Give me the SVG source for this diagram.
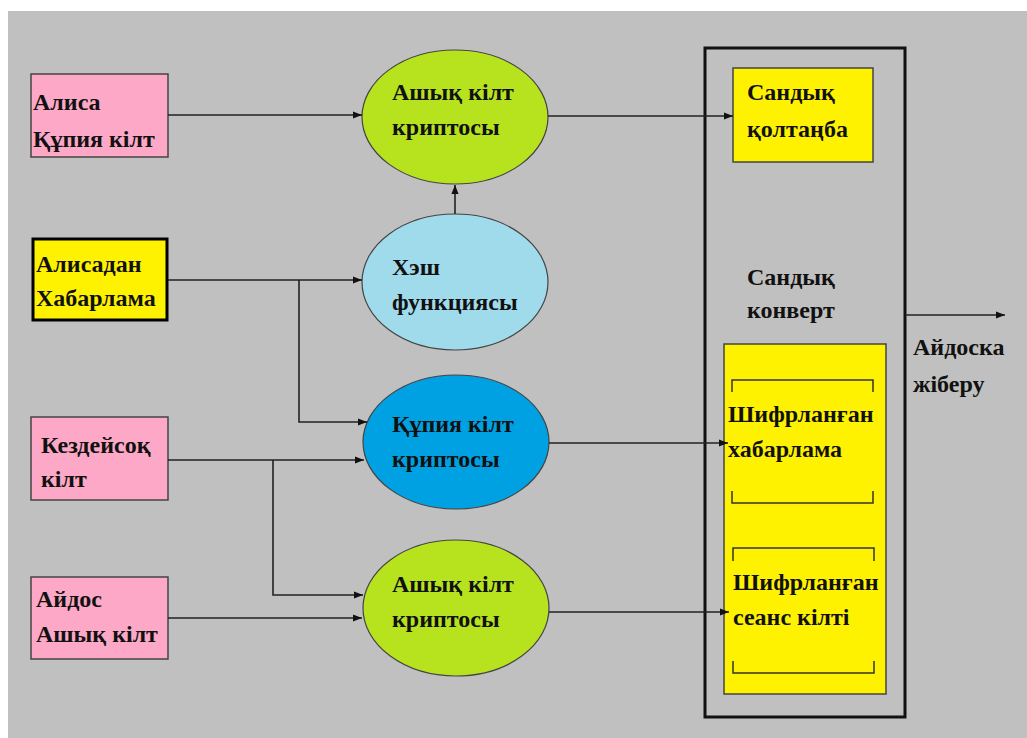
<svg xmlns="http://www.w3.org/2000/svg" width="1027" height="738" viewBox="0 0 1027 738">
  <defs>
    <marker id="arr" viewBox="0 0 10 10" refX="10" refY="5" markerWidth="9" markerHeight="9" markerUnits="userSpaceOnUse" orient="auto">
      <path d="M0,1 L10,5 L0,9 z" fill="#111"/>
    </marker>
    <style>
      .box { stroke: #444; stroke-width: 1.5; }
      .pink { fill: #fda8c6; }
      .yellow { fill: #fff200; }
      .ell { stroke: #444; stroke-width: 1.2; }
      .wire { fill: none; stroke: #222; stroke-width: 1.6; }
      .arrow { marker-end: url(#arr); }
      .brk { fill: none; stroke: #333; stroke-width: 1.5; }
    </style>
  </defs>

  <rect x="0" y="0" width="1027" height="738" fill="#ffffff"/>
  <rect x="8" y="11" width="1019" height="727" fill="#c0c0c0"/>

  <g font-family="Liberation Serif, Times New Roman, serif" font-weight="bold" font-size="24" fill="#111">
  <!-- inputs -->
  <g id="alice-private-key">
    <rect class="box pink" x="31" y="74" width="137" height="83"/>
    <text x="33" y="110">Алиса</text>
    <text x="33" y="147">Құпия кілт</text>
  </g>
  <g id="alice-message">
    <rect class="yellow" x="33" y="239" width="134" height="81" stroke="#000" stroke-width="3"/>
    <text x="36" y="272">Алисадан</text>
    <text x="36" y="306">Хабарлама</text>
  </g>
  <g id="random-key">
    <rect class="box pink" x="31" y="417" width="137" height="83"/>
    <text x="41" y="453">Кездейсоқ</text>
    <text x="41" y="487">кілт</text>
  </g>
  <g id="aidos-public-key">
    <rect class="box pink" x="31" y="577" width="137" height="82"/>
    <text x="36" y="607">Айдос</text>
    <text x="36" y="642">Ашық кілт</text>
  </g>

  <!-- processing -->
  <g id="public-crypto-1">
    <ellipse class="ell" cx="455" cy="117" rx="93" ry="67" fill="#b6e31e"/>
    <text x="392" y="100">Ашық кілт</text>
    <text x="392" y="135">криптосы</text>
  </g>
  <g id="hash-function">
    <ellipse class="ell" cx="455" cy="282" rx="93" ry="68" fill="#a0dbec"/>
    <text x="392" y="275">Хэш</text>
    <text x="392" y="310">функциясы</text>
  </g>
  <g id="secret-crypto">
    <ellipse class="ell" cx="456" cy="442" rx="93" ry="67" fill="#00a1e2"/>
    <text x="392" y="432">Құпия кілт</text>
    <text x="392" y="467">криптосы</text>
  </g>
  <g id="public-crypto-2">
    <ellipse class="ell" cx="456" cy="608" rx="93" ry="68" fill="#b6e31e"/>
    <text x="392" y="592">Ашық кілт</text>
    <text x="392" y="627">криптосы</text>
  </g>

  <!-- digital envelope -->
  <g id="digital-envelope">
    <rect x="705" y="48" width="200" height="669" fill="none" stroke="#111" stroke-width="3"/>
    <text x="747" y="285">Сандық</text>
    <text x="747" y="318">конверт</text>
  </g>
  <g id="digital-signature">
    <rect class="box yellow" x="733" y="68" width="140" height="94"/>
    <text x="747" y="100">Сандық</text>
    <text x="747" y="137">қолтаңба</text>
  </g>
  <g id="encrypted-part">
    <rect class="box yellow" x="724" y="344" width="162" height="350"/>
    <path class="brk" d="M732,392 V380 H873 V392"/>
    <path class="brk" d="M732,491 V503 H873 V491"/>
    <path class="brk" d="M733,561 V548 H874 V561"/>
    <path class="brk" d="M733,661 V673 H874 V661"/>
    <text x="728" y="422">Шифрланған</text>
    <text x="728" y="457">хабарлама</text>
    <text x="733" y="590">Шифрланған</text>
    <text x="733" y="625">сеанс кілті</text>
  </g>
  <g id="send-label">
    <text x="913" y="355">Айдоска</text>
    <text x="913" y="392">жіберу</text>
  </g>
  </g>

  <!-- connectors -->
  <g id="connectors">
    <line class="wire arrow" x1="168" y1="115" x2="362" y2="115"/>
    <line class="wire arrow" x1="168" y1="280" x2="362" y2="280"/>
    <polyline class="wire arrow" points="299,280 299,422 367,422"/>
    <line class="wire arrow" x1="168" y1="460" x2="364" y2="460"/>
    <polyline class="wire arrow" points="273,460 273,595 363,595"/>
    <line class="wire arrow" x1="168" y1="618" x2="362" y2="618"/>
    <line class="wire arrow" x1="455" y1="214" x2="455" y2="185"/>
    <line class="wire arrow" x1="548" y1="116" x2="733" y2="116"/>
    <line class="wire arrow" x1="549" y1="443" x2="728" y2="443"/>
    <line class="wire arrow" x1="549" y1="612" x2="729" y2="612"/>
    <line class="wire arrow" x1="905" y1="315" x2="1005" y2="315"/>
  </g>
</svg>
